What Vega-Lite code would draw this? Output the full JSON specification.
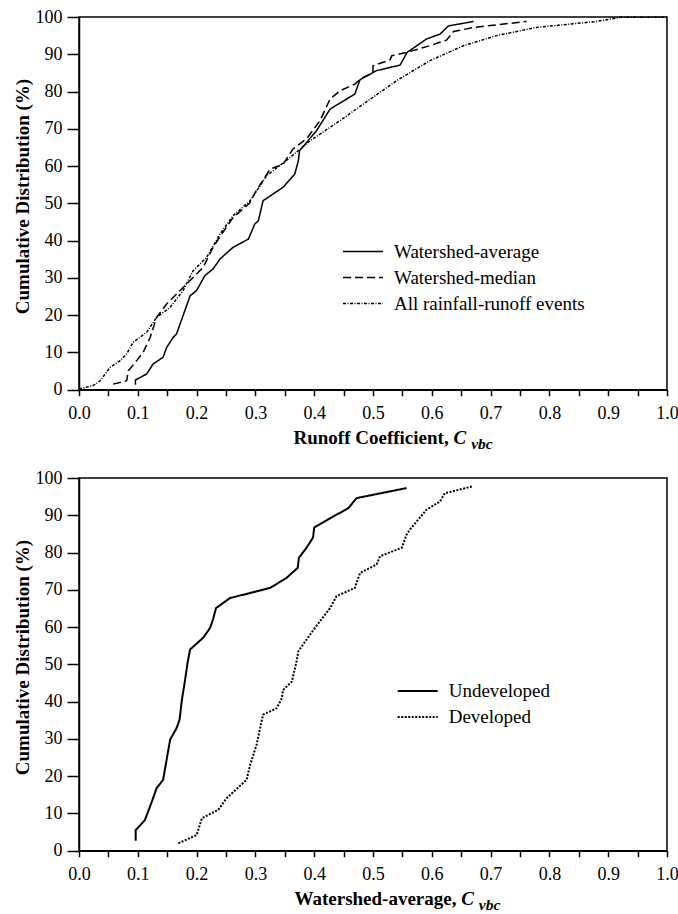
{
  "$schema": "https://vega.github.io/schema/vega-lite/v6.json",
  "background": "white",
  "padding": {"left": 12, "top": 7, "right": 0, "bottom": 0},
  "autosize": {"type": "pad"},
  "spacing": 88,
  "bounds": "flush",
  "config": {
    "font": "Liberation Serif",
    "view": {"stroke": "black", "strokeWidth": 1.5},
    "axis": {"domainColor": "black", "domainWidth": 1.5, "tickColor": "black", "tickWidth": 1.5, "labelFont": "Liberation Serif", "labelFontSize": 18, "labelColor": "black", "titleFont": "Liberation Serif", "titleFontSize": 19, "titleFontWeight": "bold", "titleColor": "black", "grid": false, "labelFlush": false, "labelOverlap": false, "labelBound": false},
    "legend": {"labelFont": "Liberation Serif", "labelFontSize": 19, "labelColor": "black", "labelLimit": 0, "title": null, "orient": "none", "symbolType": "M-2,0H2", "symbolSize": 400, "symbolStrokeWidth": 1.5, "symbolStrokeColor": "black", "symbolFillColor": "transparent", "labelOffset": 20, "rowPadding": 5, "padding": 0}
  },
  "resolve": {"scale": {"strokeDash": "independent"}},
  "vconcat": [
    {
      "width": 588,
      "height": 372.7,
      "layer": [
        {
          "data": {"values": [
            {"series": "Watershed-average", "x": 0.096, "y": 1.3},
            {"series": "Watershed-average", "x": 0.096, "y": 2.6},
            {"series": "Watershed-average", "x": 0.115, "y": 4.2},
            {"series": "Watershed-average", "x": 0.126, "y": 6.9},
            {"series": "Watershed-average", "x": 0.143, "y": 8.7},
            {"series": "Watershed-average", "x": 0.149, "y": 11.3},
            {"series": "Watershed-average", "x": 0.160, "y": 14.0},
            {"series": "Watershed-average", "x": 0.166, "y": 15.0},
            {"series": "Watershed-average", "x": 0.175, "y": 19.0},
            {"series": "Watershed-average", "x": 0.189, "y": 25.2},
            {"series": "Watershed-average", "x": 0.200, "y": 26.6},
            {"series": "Watershed-average", "x": 0.214, "y": 30.6},
            {"series": "Watershed-average", "x": 0.228, "y": 32.4},
            {"series": "Watershed-average", "x": 0.240, "y": 35.1},
            {"series": "Watershed-average", "x": 0.262, "y": 38.2},
            {"series": "Watershed-average", "x": 0.288, "y": 40.4},
            {"series": "Watershed-average", "x": 0.299, "y": 44.5},
            {"series": "Watershed-average", "x": 0.305, "y": 45.3},
            {"series": "Watershed-average", "x": 0.313, "y": 50.7},
            {"series": "Watershed-average", "x": 0.347, "y": 54.3},
            {"series": "Watershed-average", "x": 0.367, "y": 57.9},
            {"series": "Watershed-average", "x": 0.373, "y": 61.4},
            {"series": "Watershed-average", "x": 0.375, "y": 64.1},
            {"series": "Watershed-average", "x": 0.404, "y": 69.5},
            {"series": "Watershed-average", "x": 0.427, "y": 75.3},
            {"series": "Watershed-average", "x": 0.469, "y": 79.3},
            {"series": "Watershed-average", "x": 0.478, "y": 83.2},
            {"series": "Watershed-average", "x": 0.506, "y": 85.6},
            {"series": "Watershed-average", "x": 0.546, "y": 87.1},
            {"series": "Watershed-average", "x": 0.558, "y": 90.5},
            {"series": "Watershed-average", "x": 0.591, "y": 94.1},
            {"series": "Watershed-average", "x": 0.614, "y": 95.4},
            {"series": "Watershed-average", "x": 0.628, "y": 97.6},
            {"series": "Watershed-average", "x": 0.671, "y": 98.8},
            {"series": "Watershed-median", "x": 0.058, "y": 1.5},
            {"series": "Watershed-median", "x": 0.081, "y": 2.4},
            {"series": "Watershed-median", "x": 0.084, "y": 5.1},
            {"series": "Watershed-median", "x": 0.098, "y": 7.8},
            {"series": "Watershed-median", "x": 0.109, "y": 10.0},
            {"series": "Watershed-median", "x": 0.121, "y": 14.0},
            {"series": "Watershed-median", "x": 0.132, "y": 19.4},
            {"series": "Watershed-median", "x": 0.149, "y": 23.0},
            {"series": "Watershed-median", "x": 0.172, "y": 26.6},
            {"series": "Watershed-median", "x": 0.194, "y": 30.1},
            {"series": "Watershed-median", "x": 0.211, "y": 32.8},
            {"series": "Watershed-median", "x": 0.228, "y": 38.2},
            {"series": "Watershed-median", "x": 0.243, "y": 41.8},
            {"series": "Watershed-median", "x": 0.262, "y": 46.2},
            {"series": "Watershed-median", "x": 0.290, "y": 50.0},
            {"series": "Watershed-median", "x": 0.300, "y": 53.0},
            {"series": "Watershed-median", "x": 0.325, "y": 59.2},
            {"series": "Watershed-median", "x": 0.347, "y": 60.5},
            {"series": "Watershed-median", "x": 0.364, "y": 64.6},
            {"series": "Watershed-median", "x": 0.387, "y": 67.3},
            {"series": "Watershed-median", "x": 0.410, "y": 72.2},
            {"series": "Watershed-median", "x": 0.427, "y": 78.0},
            {"series": "Watershed-median", "x": 0.444, "y": 80.2},
            {"series": "Watershed-median", "x": 0.469, "y": 82.0},
            {"series": "Watershed-median", "x": 0.481, "y": 83.6},
            {"series": "Watershed-median", "x": 0.500, "y": 85.1},
            {"series": "Watershed-median", "x": 0.500, "y": 86.9},
            {"series": "Watershed-median", "x": 0.529, "y": 88.5},
            {"series": "Watershed-median", "x": 0.532, "y": 89.6},
            {"series": "Watershed-median", "x": 0.557, "y": 90.5},
            {"series": "Watershed-median", "x": 0.597, "y": 92.3},
            {"series": "Watershed-median", "x": 0.625, "y": 93.8},
            {"series": "Watershed-median", "x": 0.637, "y": 96.1},
            {"series": "Watershed-median", "x": 0.671, "y": 97.2},
            {"series": "Watershed-median", "x": 0.761, "y": 98.8},
            {"series": "All rainfall-runoff events", "x": 0.0, "y": 0.2},
            {"series": "All rainfall-runoff events", "x": 0.024, "y": 1.1},
            {"series": "All rainfall-runoff events", "x": 0.036, "y": 2.4},
            {"series": "All rainfall-runoff events", "x": 0.053, "y": 6.0},
            {"series": "All rainfall-runoff events", "x": 0.070, "y": 7.8},
            {"series": "All rainfall-runoff events", "x": 0.081, "y": 9.6},
            {"series": "All rainfall-runoff events", "x": 0.092, "y": 12.7},
            {"series": "All rainfall-runoff events", "x": 0.115, "y": 15.4},
            {"series": "All rainfall-runoff events", "x": 0.132, "y": 19.4},
            {"series": "All rainfall-runoff events", "x": 0.155, "y": 22.1},
            {"series": "All rainfall-runoff events", "x": 0.177, "y": 26.6},
            {"series": "All rainfall-runoff events", "x": 0.194, "y": 31.9},
            {"series": "All rainfall-runoff events", "x": 0.217, "y": 35.5},
            {"series": "All rainfall-runoff events", "x": 0.240, "y": 41.8},
            {"series": "All rainfall-runoff events", "x": 0.262, "y": 46.7},
            {"series": "All rainfall-runoff events", "x": 0.291, "y": 50.7},
            {"series": "All rainfall-runoff events", "x": 0.319, "y": 57.4},
            {"series": "All rainfall-runoff events", "x": 0.359, "y": 62.3},
            {"series": "All rainfall-runoff events", "x": 0.393, "y": 66.8},
            {"series": "All rainfall-runoff events", "x": 0.427, "y": 70.4},
            {"series": "All rainfall-runoff events", "x": 0.444, "y": 72.2},
            {"series": "All rainfall-runoff events", "x": 0.484, "y": 76.7},
            {"series": "All rainfall-runoff events", "x": 0.512, "y": 79.8},
            {"series": "All rainfall-runoff events", "x": 0.540, "y": 82.9},
            {"series": "All rainfall-runoff events", "x": 0.597, "y": 88.3},
            {"series": "All rainfall-runoff events", "x": 0.654, "y": 92.3},
            {"series": "All rainfall-runoff events", "x": 0.710, "y": 95.0},
            {"series": "All rainfall-runoff events", "x": 0.778, "y": 97.2},
            {"series": "All rainfall-runoff events", "x": 0.880, "y": 98.8},
            {"series": "All rainfall-runoff events", "x": 0.920, "y": 99.9},
            {"series": "All rainfall-runoff events", "x": 1.0, "y": 100.0}
          ]},
          "mark": {"type": "line", "strokeWidth": 1.5, "color": "black"},
          "encoding": {
            "x": {"field": "x", "type": "quantitative", "scale": {"domain": [0, 1]},
              "axis": {"values": [0, 0.05, 0.1, 0.15, 0.2, 0.25, 0.3, 0.35, 0.4, 0.45, 0.5, 0.55, 0.6, 0.65, 0.7, 0.75, 0.8, 0.85, 0.9, 0.95, 1.0], "tickSize": 6, "labelPadding": 9, "labelExpr": "round(datum.value*100)%10==0 ? format(datum.value,'.1f') : ''", "title": "Runoff Coefficient,", "titleX": 214, "titleY": 54, "titleAnchor": "start", "titleAlign": "left", "titleBaseline": "alphabetic"}},
            "y": {"field": "y", "type": "quantitative", "scale": {"domain": [0, 100]},
              "axis": {"values": [0, 10, 20, 30, 40, 50, 60, 70, 80, 90, 100], "tickSize": 12, "labelPadding": 5, "title": "Cumulative Distribution (%)", "titleX": -51, "titleY": 179, "titleBaseline": "alphabetic"}},
            "strokeDash": {"field": "series", "type": "nominal",
              "scale": {"domain": ["Watershed-average", "Watershed-median", "All rainfall-runoff events"], "range": [[1, 0], [8, 4], [3, 1.5, 1, 1.5]]},
              "legend": {"legendX": 273, "legendY": 223.5}},
            "order": {"value": null}
          }
        },
        {
          "data": {"values": [{}]},
          "mark": {"type": "text", "text": "C", "fontStyle": "italic", "fontWeight": "bold", "fontSize": 19, "align": "left", "baseline": "alphabetic", "color": "black"},
          "encoding": {
            "x": {"datum": 0.637, "type": "quantitative",
              "axis": {"values": [0, 0.05, 0.1, 0.15, 0.2, 0.25, 0.3, 0.35, 0.4, 0.45, 0.5, 0.55, 0.6, 0.65, 0.7, 0.75, 0.8, 0.85, 0.9, 0.95, 1.0], "tickSize": 6, "labelPadding": 9, "labelExpr": "round(datum.value*100)%10==0 ? format(datum.value,'.1f') : ''", "title": "Runoff Coefficient,", "titleX": 214, "titleY": 54, "titleAnchor": "start", "titleAlign": "left", "titleBaseline": "alphabetic"}},
            "y": {"datum": -14.5, "type": "quantitative",
              "axis": {"values": [0, 10, 20, 30, 40, 50, 60, 70, 80, 90, 100], "tickSize": 12, "labelPadding": 5, "title": "Cumulative Distribution (%)", "titleX": -51, "titleY": 179, "titleBaseline": "alphabetic"}}
          }
        },
        {
          "data": {"values": [{}]},
          "mark": {"type": "text", "text": "vbc", "fontStyle": "italic", "fontWeight": "bold", "fontSize": 15.5, "align": "left", "baseline": "alphabetic", "color": "black"},
          "encoding": {
            "x": {"datum": 0.667, "type": "quantitative",
              "axis": {"values": [0, 0.05, 0.1, 0.15, 0.2, 0.25, 0.3, 0.35, 0.4, 0.45, 0.5, 0.55, 0.6, 0.65, 0.7, 0.75, 0.8, 0.85, 0.9, 0.95, 1.0], "tickSize": 6, "labelPadding": 9, "labelExpr": "round(datum.value*100)%10==0 ? format(datum.value,'.1f') : ''", "title": "Runoff Coefficient,", "titleX": 214, "titleY": 54, "titleAnchor": "start", "titleAlign": "left", "titleBaseline": "alphabetic"}},
            "y": {"datum": -15.8, "type": "quantitative",
              "axis": {"values": [0, 10, 20, 30, 40, 50, 60, 70, 80, 90, 100], "tickSize": 12, "labelPadding": 5, "title": "Cumulative Distribution (%)", "titleX": -51, "titleY": 179, "titleBaseline": "alphabetic"}}
          }
        }
      ]
    },
    {
      "width": 588,
      "height": 372.7,
      "layer": [
        {
          "data": {"values": [
            {"group": "Undeveloped", "x": 0.0964, "y": 2.7},
            {"group": "Undeveloped", "x": 0.0964, "y": 5.5},
            {"group": "Undeveloped", "x": 0.112, "y": 8.2},
            {"group": "Undeveloped", "x": 0.124, "y": 13.2},
            {"group": "Undeveloped", "x": 0.132, "y": 16.8},
            {"group": "Undeveloped", "x": 0.143, "y": 19.0},
            {"group": "Undeveloped", "x": 0.149, "y": 24.4},
            {"group": "Undeveloped", "x": 0.155, "y": 29.8},
            {"group": "Undeveloped", "x": 0.166, "y": 32.9},
            {"group": "Undeveloped", "x": 0.171, "y": 35.1},
            {"group": "Undeveloped", "x": 0.175, "y": 40.5},
            {"group": "Undeveloped", "x": 0.180, "y": 45.4},
            {"group": "Undeveloped", "x": 0.185, "y": 50.8},
            {"group": "Undeveloped", "x": 0.189, "y": 54.0},
            {"group": "Undeveloped", "x": 0.211, "y": 57.1},
            {"group": "Undeveloped", "x": 0.223, "y": 59.8},
            {"group": "Undeveloped", "x": 0.228, "y": 62.1},
            {"group": "Undeveloped", "x": 0.233, "y": 65.1},
            {"group": "Undeveloped", "x": 0.257, "y": 67.8},
            {"group": "Undeveloped", "x": 0.325, "y": 70.5},
            {"group": "Undeveloped", "x": 0.353, "y": 73.2},
            {"group": "Undeveloped", "x": 0.372, "y": 75.9},
            {"group": "Undeveloped", "x": 0.374, "y": 78.6},
            {"group": "Undeveloped", "x": 0.387, "y": 81.3},
            {"group": "Undeveloped", "x": 0.398, "y": 84.0},
            {"group": "Undeveloped", "x": 0.400, "y": 86.7},
            {"group": "Undeveloped", "x": 0.427, "y": 89.2},
            {"group": "Undeveloped", "x": 0.458, "y": 91.9},
            {"group": "Undeveloped", "x": 0.472, "y": 94.6},
            {"group": "Undeveloped", "x": 0.557, "y": 97.3},
            {"group": "Developed", "x": 0.169, "y": 2.0},
            {"group": "Developed", "x": 0.200, "y": 4.2},
            {"group": "Developed", "x": 0.209, "y": 8.7},
            {"group": "Developed", "x": 0.237, "y": 11.0},
            {"group": "Developed", "x": 0.251, "y": 14.1},
            {"group": "Developed", "x": 0.285, "y": 19.0},
            {"group": "Developed", "x": 0.291, "y": 23.0},
            {"group": "Developed", "x": 0.302, "y": 28.4},
            {"group": "Developed", "x": 0.313, "y": 36.5},
            {"group": "Developed", "x": 0.336, "y": 38.2},
            {"group": "Developed", "x": 0.345, "y": 40.9},
            {"group": "Developed", "x": 0.347, "y": 43.1},
            {"group": "Developed", "x": 0.362, "y": 45.4},
            {"group": "Developed", "x": 0.370, "y": 50.8},
            {"group": "Developed", "x": 0.373, "y": 53.5},
            {"group": "Developed", "x": 0.393, "y": 58.0},
            {"group": "Developed", "x": 0.410, "y": 61.6},
            {"group": "Developed", "x": 0.427, "y": 65.1},
            {"group": "Developed", "x": 0.438, "y": 68.3},
            {"group": "Developed", "x": 0.469, "y": 70.5},
            {"group": "Developed", "x": 0.478, "y": 74.5},
            {"group": "Developed", "x": 0.506, "y": 76.8},
            {"group": "Developed", "x": 0.512, "y": 79.0},
            {"group": "Developed", "x": 0.549, "y": 81.3},
            {"group": "Developed", "x": 0.557, "y": 84.8},
            {"group": "Developed", "x": 0.563, "y": 86.2},
            {"group": "Developed", "x": 0.591, "y": 91.5},
            {"group": "Developed", "x": 0.614, "y": 93.7},
            {"group": "Developed", "x": 0.622, "y": 95.9},
            {"group": "Developed", "x": 0.668, "y": 97.7}
          ]},
          "mark": {"type": "line", "strokeWidth": 2, "color": "black"},
          "encoding": {
            "x": {"field": "x", "type": "quantitative", "scale": {"domain": [0, 1]},
              "axis": {"values": [0, 0.05, 0.1, 0.15, 0.2, 0.25, 0.3, 0.35, 0.4, 0.45, 0.5, 0.55, 0.6, 0.65, 0.7, 0.75, 0.8, 0.85, 0.9, 0.95, 1.0], "tickSize": 6, "labelPadding": 9, "labelExpr": "round(datum.value*100)%10==0 ? format(datum.value,'.1f') : ''", "title": "Watershed-average,", "titleX": 215, "titleY": 54, "titleAnchor": "start", "titleAlign": "left", "titleBaseline": "alphabetic"}},
            "y": {"field": "y", "type": "quantitative", "scale": {"domain": [0, 100]},
              "axis": {"values": [0, 10, 20, 30, 40, 50, 60, 70, 80, 90, 100], "tickSize": 12, "labelPadding": 5, "title": "Cumulative Distribution (%)", "titleX": -51, "titleY": 179, "titleBaseline": "alphabetic"}},
            "strokeDash": {"field": "group", "type": "nominal",
              "scale": {"domain": ["Undeveloped", "Developed"], "range": [[1, 0], [2, 1.5]]},
              "legend": {"legendX": 327.7, "legendY": 202, "symbolStrokeWidth": 2}},
            "order": {"value": null}
          }
        },
        {
          "data": {"values": [{}]},
          "mark": {"type": "text", "text": "C", "fontStyle": "italic", "fontWeight": "bold", "fontSize": 19, "align": "left", "baseline": "alphabetic", "color": "black"},
          "encoding": {
            "x": {"datum": 0.65, "type": "quantitative",
              "axis": {"values": [0, 0.05, 0.1, 0.15, 0.2, 0.25, 0.3, 0.35, 0.4, 0.45, 0.5, 0.55, 0.6, 0.65, 0.7, 0.75, 0.8, 0.85, 0.9, 0.95, 1.0], "tickSize": 6, "labelPadding": 9, "labelExpr": "round(datum.value*100)%10==0 ? format(datum.value,'.1f') : ''", "title": "Watershed-average,", "titleX": 215, "titleY": 54, "titleAnchor": "start", "titleAlign": "left", "titleBaseline": "alphabetic"}},
            "y": {"datum": -14.5, "type": "quantitative",
              "axis": {"values": [0, 10, 20, 30, 40, 50, 60, 70, 80, 90, 100], "tickSize": 12, "labelPadding": 5, "title": "Cumulative Distribution (%)", "titleX": -51, "titleY": 179, "titleBaseline": "alphabetic"}}
          }
        },
        {
          "data": {"values": [{}]},
          "mark": {"type": "text", "text": "vbc", "fontStyle": "italic", "fontWeight": "bold", "fontSize": 15.5, "align": "left", "baseline": "alphabetic", "color": "black"},
          "encoding": {
            "x": {"datum": 0.68, "type": "quantitative",
              "axis": {"values": [0, 0.05, 0.1, 0.15, 0.2, 0.25, 0.3, 0.35, 0.4, 0.45, 0.5, 0.55, 0.6, 0.65, 0.7, 0.75, 0.8, 0.85, 0.9, 0.95, 1.0], "tickSize": 6, "labelPadding": 9, "labelExpr": "round(datum.value*100)%10==0 ? format(datum.value,'.1f') : ''", "title": "Watershed-average,", "titleX": 215, "titleY": 54, "titleAnchor": "start", "titleAlign": "left", "titleBaseline": "alphabetic"}},
            "y": {"datum": -15.8, "type": "quantitative",
              "axis": {"values": [0, 10, 20, 30, 40, 50, 60, 70, 80, 90, 100], "tickSize": 12, "labelPadding": 5, "title": "Cumulative Distribution (%)", "titleX": -51, "titleY": 179, "titleBaseline": "alphabetic"}}
          }
        }
      ]
    }
  ]
}
